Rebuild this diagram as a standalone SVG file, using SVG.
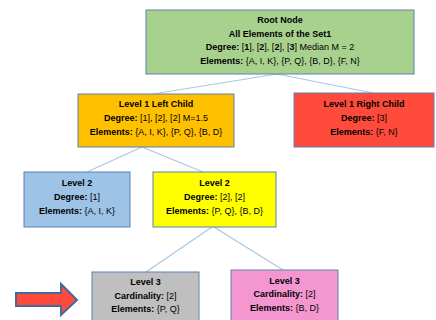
<svg xmlns="http://www.w3.org/2000/svg" width="436" height="320" viewBox="0 0 436 320">
  <style>
    .box { stroke: #5a82b4; stroke-width: 1; }
    .t { font-family: "Liberation Sans", Arial, sans-serif; font-size: 9px; fill: #000; text-anchor: middle; }
    .b { font-weight: bold; }
    .link { stroke: #a7c7e7; stroke-width: 1.2; fill: none; }
  </style>
  <rect width="436" height="320" fill="#ffffff"/>

  <!-- connectors -->
  <g id="connectors">
    <line class="link" x1="277" y1="74" x2="153" y2="94"/>
    <line class="link" x1="277" y1="74" x2="373" y2="93"/>
    <line class="link" x1="142" y1="147" x2="87" y2="172"/>
    <line class="link" x1="142" y1="147" x2="203" y2="172"/>
    <line class="link" x1="212" y1="227" x2="146" y2="272"/>
    <line class="link" x1="214" y1="227" x2="283" y2="270"/>
  </g>

  <g id="root">
    <rect class="box" x="146" y="10" width="268" height="64" fill="#a9d18e"/>
    <text class="t b" x="280" y="23">Root Node</text>
    <text class="t b" x="280" y="37">All Elements of the Set1</text>
    <text class="t" x="280" y="50"><tspan class="b">Degree:</tspan> [<tspan class="b">1</tspan>], [<tspan class="b">2</tspan>], [<tspan class="b">2</tspan>], [<tspan class="b">3</tspan>] Median M = 2</text>
    <text class="t" x="280" y="64"><tspan class="b">Elements:</tspan> {A, I, K}, {P, Q}, {B, D}, {F, N}</text>
  </g>

  <g id="level1-left">
    <rect class="box" x="78" y="94" width="156" height="53" fill="#ffc000"/>
    <text class="t b" x="156" y="107">Level 1 Left Child</text>
    <text class="t" x="156" y="121"><tspan class="b">Degree:</tspan> [1], [2], [2] M=1.5</text>
    <text class="t" x="156" y="135"><tspan class="b">Elements:</tspan> {A, I, K}, {P, Q}, {B, D}</text>
  </g>

  <g id="level1-right">
    <rect class="box" x="294" y="93" width="140" height="54" fill="#ff4b3c"/>
    <text class="t b" x="364" y="107">Level 1 Right Child</text>
    <text class="t" x="364" y="121"><tspan class="b">Degree:</tspan> [3]</text>
    <text class="t" x="364" y="135"><tspan class="b">Elements:</tspan> {F, N}</text>
  </g>

  <g id="level2-left">
    <rect class="box" x="24" y="172" width="106" height="55" fill="#9dc3e6"/>
    <text class="t b" x="77" y="186">Level 2</text>
    <text class="t" x="77" y="200"><tspan class="b">Degree:</tspan> [1]</text>
    <text class="t" x="77" y="214"><tspan class="b">Elements:</tspan> {A, I, K}</text>
  </g>

  <g id="level2-right">
    <rect class="box" x="153" y="172" width="123" height="55" fill="#ffff00"/>
    <text class="t b" x="214.5" y="186">Level 2</text>
    <text class="t" x="214.5" y="200"><tspan class="b">Degree:</tspan> [2], [2]</text>
    <text class="t" x="214.5" y="214"><tspan class="b">Elements:</tspan> {P, Q}, {B, D}</text>
  </g>

  <g id="level3-left">
    <rect class="box" x="92" y="272" width="107" height="60" fill="#bfbfbf"/>
    <text class="t b" x="145.5" y="285">Level 3</text>
    <text class="t" x="145.5" y="299"><tspan class="b">Cardinality:</tspan> [2]</text>
    <text class="t" x="145.5" y="312"><tspan class="b">Elements:</tspan> {P, Q}</text>
  </g>

  <g id="level3-right">
    <rect class="box" x="231" y="270" width="107" height="62" fill="#f497d0"/>
    <text class="t b" x="284.5" y="284">Level 3</text>
    <text class="t" x="284.5" y="297"><tspan class="b">Cardinality:</tspan> [2]</text>
    <text class="t" x="284.5" y="311"><tspan class="b">Elements:</tspan> {B, D}</text>
  </g>

  <!-- block arrow pointing at the grey node -->
  <g id="pointer">
    <polygon points="16,293 61,293 61,284 77,300 61,315 61,306 16,306" fill="#ff4b3c" stroke="#44699a" stroke-width="2" stroke-linejoin="miter"/>
  </g>
</svg>
